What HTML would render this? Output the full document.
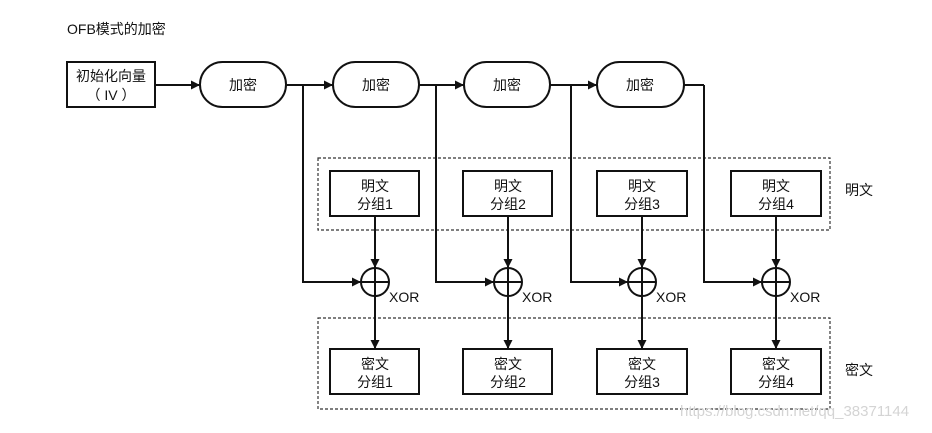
<!DOCTYPE html>
<html><head><meta charset="utf-8"><style>
body{margin:0;background:#fff;width:932px;height:428px;overflow:hidden}
svg text{font-family:"Liberation Sans","Noto Sans CJK SC",sans-serif;fill:#111}
</style></head><body>
<svg width="932" height="428" viewBox="0 0 932 428" xmlns="http://www.w3.org/2000/svg">
<defs><marker id="a" viewBox="0 0 10 10" refX="10" refY="5" markerWidth="9" markerHeight="9" markerUnits="userSpaceOnUse" orient="auto"><path d="M0,0L10,5L0,10z" fill="#111"/></marker></defs>
<text x="67" y="34" font-size="14">OFB模式的加密</text>
<g stroke="#111" stroke-width="2" fill="none">
<rect x="67" y="62" width="88" height="45"/>
<rect x="200" y="62" width="86" height="45" rx="22.5"/>
<rect x="333" y="62" width="86" height="45" rx="22.5"/>
<rect x="464" y="62" width="86" height="45" rx="22.5"/>
<rect x="597" y="62" width="87" height="45" rx="22.5"/>
<line x1="155" y1="85" x2="200" y2="85" marker-end="url(#a)"/>
<line x1="286" y1="85" x2="333" y2="85" marker-end="url(#a)"/>
<line x1="419" y1="85" x2="464" y2="85" marker-end="url(#a)"/>
<line x1="550" y1="85" x2="597" y2="85" marker-end="url(#a)"/>
<polyline points="684,85 704,85"/>
</g>
<g font-size="14" text-anchor="middle">
<text x="111" y="81">初始化向量</text><text x="111" y="100">（ IV ）</text>
<text x="243" y="90">加密</text><text x="376" y="90">加密</text><text x="507" y="90">加密</text><text x="640" y="90">加密</text>
</g>
<g stroke="#333" stroke-width="1.2" stroke-dasharray="3,2" fill="none">
<rect x="318" y="158" width="512" height="72"/>
<rect x="318" y="318" width="512" height="91"/>
</g>
<g font-size="14" text-anchor="middle">
<text x="859" y="195">明文</text><text x="859" y="375">密文</text>
</g>
<g id="cols">
</g>
<g stroke="#111" stroke-width="2" fill="none">
<!-- col1 -->
<rect x="330" y="171" width="89" height="45"/><rect x="330" y="349" width="89" height="45"/>
<circle cx="375" cy="282" r="14"/><line x1="361" y1="282" x2="389" y2="282"/><line x1="375" y1="268" x2="375" y2="296"/>
<line x1="375" y1="216" x2="375" y2="268" marker-end="url(#a)"/><line x1="375" y1="296" x2="375" y2="349" marker-end="url(#a)"/>
<polyline points="303,85 303,282 361,282" marker-end="url(#a)"/>
<!-- col2 -->
<rect x="463" y="171" width="89" height="45"/><rect x="463" y="349" width="89" height="45"/>
<circle cx="508" cy="282" r="14"/><line x1="494" y1="282" x2="522" y2="282"/><line x1="508" y1="268" x2="508" y2="296"/>
<line x1="508" y1="216" x2="508" y2="268" marker-end="url(#a)"/><line x1="508" y1="296" x2="508" y2="349" marker-end="url(#a)"/>
<polyline points="436,85 436,282 494,282" marker-end="url(#a)"/>
<!-- col3 -->
<rect x="597" y="171" width="90" height="45"/><rect x="597" y="349" width="90" height="45"/>
<circle cx="642" cy="282" r="14"/><line x1="628" y1="282" x2="656" y2="282"/><line x1="642" y1="268" x2="642" y2="296"/>
<line x1="642" y1="216" x2="642" y2="268" marker-end="url(#a)"/><line x1="642" y1="296" x2="642" y2="349" marker-end="url(#a)"/>
<polyline points="571,85 571,282 628,282" marker-end="url(#a)"/>
<!-- col4 -->
<rect x="731" y="171" width="90" height="45"/><rect x="731" y="349" width="90" height="45"/>
<circle cx="776" cy="282" r="14"/><line x1="762" y1="282" x2="790" y2="282"/><line x1="776" y1="268" x2="776" y2="296"/>
<line x1="776" y1="216" x2="776" y2="268" marker-end="url(#a)"/><line x1="776" y1="296" x2="776" y2="349" marker-end="url(#a)"/>
<polyline points="704,85 704,282 762,282" marker-end="url(#a)"/>
</g>
<g font-size="14" text-anchor="middle">
<text x="375" y="191">明文</text><text x="375" y="209">分组1</text>
<text x="508" y="191">明文</text><text x="508" y="209">分组2</text>
<text x="642" y="191">明文</text><text x="642" y="209">分组3</text>
<text x="776" y="191">明文</text><text x="776" y="209">分组4</text>
<text x="375" y="369">密文</text><text x="375" y="387">分组1</text>
<text x="508" y="369">密文</text><text x="508" y="387">分组2</text>
<text x="642" y="369">密文</text><text x="642" y="387">分组3</text>
<text x="776" y="369">密文</text><text x="776" y="387">分组4</text>
</g>
<g font-size="14">
<text x="389" y="302">XOR</text><text x="522" y="302">XOR</text><text x="656" y="302">XOR</text><text x="790" y="302">XOR</text>
</g>
<text x="680" y="416" font-size="15" style="fill:#d4d4d4">https://blog.csdn.net/qq_38371144</text>
</svg>
</body></html>
